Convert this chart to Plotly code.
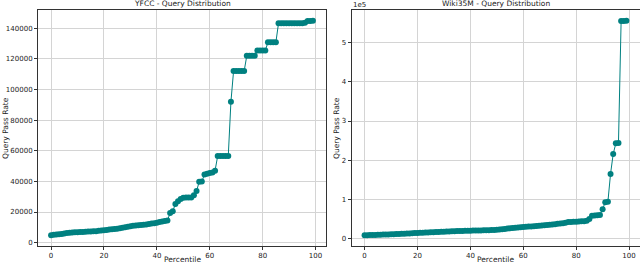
import plotly.graph_objects as go

percentile = list(range(100))

yfcc = [4800, 5100, 5300, 5500, 5700, 5900, 6300, 6500, 6600, 6700,
        6800, 6900, 7000, 7100, 7200, 7300, 7400, 7500, 7700, 7900,
        8100, 8300, 8500, 8700, 8900, 9100, 9400, 9700, 10100, 10400,
        10700, 11000, 11200, 11400, 11500, 11700, 11900, 12200, 12500, 12700,
        13000, 13400, 13800, 14200, 14500, 19300, 20500, 25200, 27000, 28500,
        29300, 29400, 29400, 29500, 31000, 33700, 39700, 39900, 44500, 45000,
        45400, 45800, 47000, 56600, 56600, 56600, 56600, 56600, 92000, 112000,
        112000, 112000, 112000, 112000, 122000, 122000, 122000, 122000, 125400, 125400,
        125400, 125400, 130800, 130800, 130800, 130800, 143300, 143300, 143300, 143300,
        143300, 143300, 143300, 143300, 143300, 143300, 143500, 144800, 144800, 144900]

wiki = [8400, 8600, 8900, 9100, 9300, 9600, 9800, 10100, 10300, 10600,
        10900, 11200, 11500, 11800, 12100, 12400, 12800, 13200, 13700, 14100,
        14500, 14800, 15100, 15400, 15700, 16000, 16300, 16600, 16900, 17200,
        17500, 17800, 18100, 18400, 18700, 19000, 19300, 19500, 19700, 19900,
        20100, 20300, 20500, 20700, 20900, 21100, 21300, 21500, 21800, 22100,
        22500, 23000, 23600, 24200, 25500, 26300, 27000, 27700, 28300, 28900,
        29500, 30000, 30500, 31000, 31500, 32000, 32600, 33200, 33800, 34500,
        35200, 36000, 36800, 37500, 38300, 39200, 40500, 42000, 42500, 43000,
        43200, 43500, 44000, 44500, 45500, 50000, 58000, 59000, 59500, 60000,
        75000, 93000, 94000, 165000, 216000, 243000, 244000, 555000, 555000, 556000]

titles = ["YFCC - Query Distribution", "Wiki35M - Query Distribution"]
x_ticks = [0, 20, 40, 60, 80, 100]
yfcc_ticks = [0, 20000, 40000, 60000, 80000, 100000, 120000, 140000]
yfcc_ticktext = [str(v) for v in yfcc_ticks]
wiki_ticks = [0, 100000, 200000, 300000, 400000, 500000]
wiki_ticktext = ["0", "1", "2", "3", "4", "5"]

COLOR = "#008080"
FONT = "DejaVu Sans"

fig = go.Figure()
fig.add_trace(go.Scatter(x=percentile, y=yfcc, mode="lines+markers",
                         line=dict(color=COLOR, width=1),
                         marker=dict(color=COLOR, size=6),
                         xaxis="x", yaxis="y", showlegend=False))
fig.add_trace(go.Scatter(x=percentile, y=wiki, mode="lines+markers",
                         line=dict(color=COLOR, width=1),
                         marker=dict(color=COLOR, size=6),
                         xaxis="x2", yaxis="y2", showlegend=False))

ydom = [1 - 246 / 264, 1 - 10 / 264]
common = dict(showline=True, mirror=True, linecolor="#333333", linewidth=1,
              ticks="outside", ticklen=3, tickcolor="#333333", tickwidth=1,
              showgrid=True, gridcolor="#d4d4d4", gridwidth=1, zeroline=False,
              tickfont=dict(family=FONT, size=7, color="#222222"))

def yr(vals):
    lo, hi = min(vals), max(vals)
    m = (hi - lo) * 0.05
    return [lo - m, hi + m]

fig.update_layout(
    width=640, height=264,
    margin=dict(l=0, r=0, t=0, b=0),
    paper_bgcolor="white", plot_bgcolor="white",
    font=dict(family=FONT, color="#222222"),
    xaxis=dict(domain=[38 / 640, 326 / 640], range=[-4.95, 103.95], tickvals=x_ticks,
               anchor="y", **common),
    yaxis=dict(domain=ydom, range=yr(yfcc), tickvals=yfcc_ticks, ticktext=yfcc_ticktext,
               anchor="x", **common),
    xaxis2=dict(domain=[351.5 / 640, 639.5 / 640], range=[-4.95, 103.95], tickvals=x_ticks,
                anchor="y2", **common),
    yaxis2=dict(domain=ydom, range=yr(wiki), tickvals=wiki_ticks, ticktext=wiki_ticktext,
                anchor="x2", **common),
)

ann = []
ann.append(dict(text=titles[0], x=182 / 640, y=1 - 4 / 264, xref="paper", yref="paper",
                showarrow=False, font=dict(family=FONT, size=7.5, color="#222222"),
                xanchor="center", yanchor="middle"))
ann.append(dict(text=titles[1], x=495.5 / 640, y=1 - 4 / 264, xref="paper", yref="paper",
                showarrow=False, font=dict(family=FONT, size=7.5, color="#222222"),
                xanchor="center", yanchor="middle"))
ann.append(dict(text="1e5", x=351 / 640, y=1 - 5 / 264, xref="paper", yref="paper",
                showarrow=False, font=dict(family=FONT, size=7, color="#222222"),
                xanchor="left", yanchor="middle"))
for cx in (182, 495.5):
    ann.append(dict(text="Percentile", x=cx / 640, y=1 - 259 / 264, xref="paper", yref="paper",
                    showarrow=False, font=dict(family=FONT, size=7.5, color="#222222"),
                    xanchor="center", yanchor="middle"))
for cx in (5, 336):
    ann.append(dict(text="Query Pass Rate", x=cx / 640, y=1 - 128 / 264, xref="paper", yref="paper",
                    showarrow=False, textangle=-90, font=dict(family=FONT, size=7.5, color="#222222"),
                    xanchor="center", yanchor="middle"))
fig.update_layout(annotations=ann)

fig.write_html("out.html", config={"displayModeBar": False},
               post_script="document.body.style.margin='0';document.body.style.overflow='hidden';")
